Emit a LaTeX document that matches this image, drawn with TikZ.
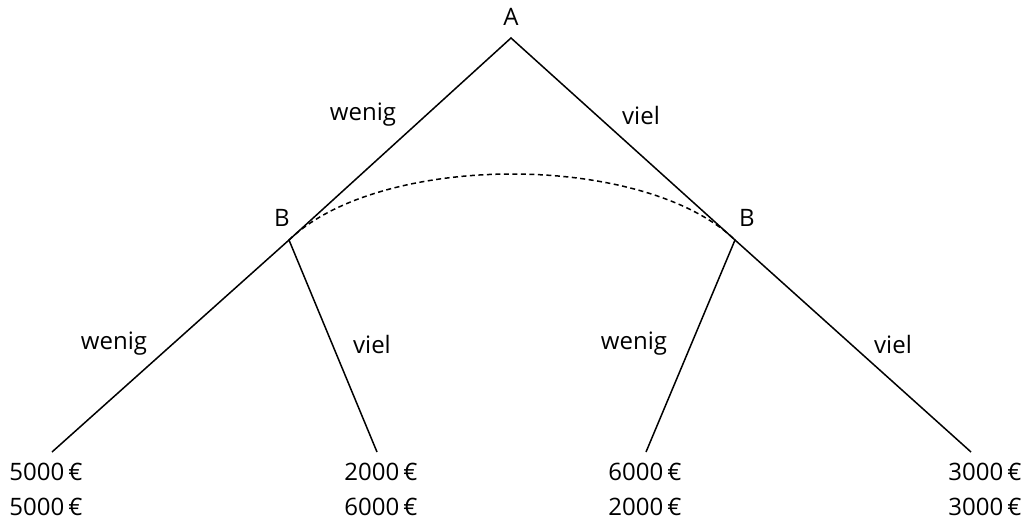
\documentclass[tikz,border=0pt]{standalone}
\usepackage{fontspec}
\setmainfont{Open Sans}
\begin{document}
\begin{tikzpicture}[x=1pt,y=-1pt,
  edge/.style={line width=1.5pt},
  lbl/.style={inner sep=0pt,font=\fontsize{24}{28}\selectfont}]
\useasboundingbox (0,0) rectangle (1029,525);
\coordinate (A) at (511,38);
\coordinate (BL) at (289,240);
\coordinate (BR) at (735,240);
\coordinate (L1) at (52,452);
\coordinate (L2) at (377,452);
\coordinate (L3) at (646,452);
\coordinate (L4) at (971,452);
\node[lbl] (tA) at (511,17) {A};
\node[lbl] (tBL) at (282,218) {B};
\node[lbl] (tBR) at (747,218) {B};
\draw[edge] (BL) -- (A) -- (BR);
\draw[edge] (L1) -- (BL) -- (L2);
\draw[edge] (L3) -- (BR) -- (L4);
\draw[edge,dashed,dash pattern=on 5pt off 3.5pt] (BL) .. controls (380,152) and (644,152) .. (BR);
\node[lbl] (w1) at (363,115) {wenig};
\node[lbl] (v1) at (641,115) {viel};
\node[lbl] (w2) at (114,344) {wenig};
\node[lbl] (v2) at (372,344) {viel};
\node[lbl] (w3) at (634,344) {wenig};
\node[lbl] (v3) at (893,344) {viel};
\node[lbl] (p1a) at (46,472) {5000\,€};
\node[lbl] (p1b) at (46,507) {5000\,€};
\node[lbl] (p2a) at (381,472) {2000\,€};
\node[lbl] (p2b) at (381,507) {6000\,€};
\node[lbl] (p3a) at (645,472) {6000\,€};
\node[lbl] (p3b) at (645,507) {2000\,€};
\node[lbl] (p4a) at (985,472) {3000\,€};
\node[lbl] (p4b) at (985,507) {3000\,€};
\end{tikzpicture}
\end{document}
